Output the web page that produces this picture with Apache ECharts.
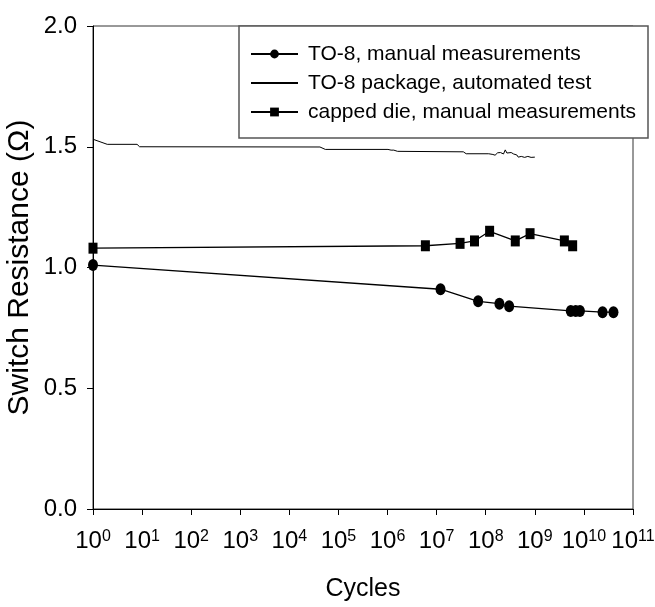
<!DOCTYPE html>
<html>
<head>
<meta charset="utf-8">
<script src="https://cdn.jsdelivr.net/npm/echarts@6/dist/echarts.min.js"></script>
<style>
html,body{margin:0;padding:0;background:#fff;}
#chart{width:655px;height:607px;}
</style>
</head>
<body>
<div id="chart"></div>
<script>
// ---- data ----
var seriesNames = ['TO-8, manual measurements', 'TO-8 package, automated test', 'capped die, manual measurements'];

var to8ManualCycles = [1, 1.2e7, 7e7, 1.9e8, 3e8, 5.4e9, 6.8e9, 8.3e9, 2.4e10, 4e10];
var to8ManualValues = [1.01, 0.91, 0.86, 0.85, 0.84, 0.82, 0.82, 0.82, 0.815, 0.815];

var autoCycles = [1, 1.95, 7.9, 8.9, 4.2e4, 5.4e4, 1.02e6, 1.1e6, 1.18e6, 1.26e6, 1.34e6, 1.45e6, 1.6e6,
  3.5e7, 4e7, 1.15e8, 1.25e8, 1.4e8, 1.55e8, 1.75e8, 2.0e8, 2.3e8, 2.5e8, 2.7e8, 2.9e8,
  3.3e8, 3.7e8, 4.3e8, 4.6e8, 5.3e8, 6.2e8, 7.2e8, 8.4e8, 1e9];
var autoValues = [1.531, 1.51, 1.51, 1.5, 1.499, 1.489, 1.489, 1.494, 1.486, 1.494, 1.486, 1.49, 1.481,
  1.479, 1.471, 1.471, 1.466, 1.468, 1.465, 1.475, 1.476, 1.47, 1.487, 1.474, 1.477,
  1.476, 1.47, 1.466, 1.457, 1.46, 1.456, 1.46, 1.456, 1.457];

var cappedCycles = [1, 5.9e6, 3e7, 5.9e7, 1.2e8, 4e8, 8e8, 4e9, 5.9e9];
var cappedValues = [1.08, 1.09, 1.10, 1.11, 1.15, 1.11, 1.14, 1.11, 1.09];

var xMin = 1, xMax = 1e11;
var yMin = 0, yMax = 2, yStep = 0.5;
var xTitle = 'Cycles';
var yTitle = 'Switch Resistance (\u03A9)';

function zip(a, b) { return a.map(function (v, i) { return [v, b[i]]; }); }

var sans = '"Liberation Sans", Arial, sans-serif';

var chart = echarts.init(document.getElementById('chart'), null, {renderer: 'canvas'});
chart.setOption({
  animation: false,
  backgroundColor: '#fff',
  grid: {left: 93, right: 22, top: 26, bottom: 98, containLabel: false, outerBoundsMode: 'none',
    show: true, borderColor: '#333', borderWidth: 1, backgroundColor: 'transparent'},
  xAxis: {
    type: 'log', logBase: 10, min: xMin, max: xMax, interval: 1, splitNumber: 11,
    name: xTitle, nameLocation: 'middle', nameGap: 68, nameMoveOverlap: false,
    nameTextStyle: {fontFamily: sans, fontSize: 25, color: '#000'},
    axisLine: {lineStyle: {color: '#000', width: 1}},
    axisTick: {show: true, inside: false, length: 6, interval: 0, lineStyle: {color: '#000'}},
    splitLine: {show: false},
    minorTick: {show: false},
    axisLabel: {
      margin: 20, interval: 0, showMaxLabel: true, showMinLabel: true, hideOverlap: false,
      formatter: function (v) { var e = Math.round(Math.log10(v)); return '{b|10}{s|' + e + '}'; },
      rich: {
        b: {fontFamily: sans, fontSize: 24, lineHeight: 24, color: '#000', verticalAlign: 'top'},
        s: {fontFamily: sans, fontSize: 16, lineHeight: 16, color: '#000', verticalAlign: 'top'}
      }
    }
  },
  yAxis: {
    type: 'value', min: yMin, max: yMax, interval: yStep,
    name: yTitle, nameLocation: 'middle', nameGap: 58, nameRotate: 90, nameMoveOverlap: false,
    nameTextStyle: {fontFamily: sans, fontSize: 30, color: '#000'},
    axisLine: {show: true, lineStyle: {color: '#000', width: 1}},
    axisTick: {show: true, inside: false, length: 6, lineStyle: {color: '#000'}},
    splitLine: {show: false},
    axisLabel: {margin: 16, fontFamily: sans, fontSize: 24, color: '#000',
      formatter: function (v) { return v.toFixed(1); }}
  },
  legend: {
    orient: 'vertical', left: 239, top: 26,
    padding: [17, 10, 17, 11],
    itemWidth: 47, itemHeight: 11, itemGap: 7,
    textStyle: {fontFamily: sans, fontSize: 21, lineHeight: 22, color: '#000', padding: [0, 0, 0, 5]},
    data: [
      {name: seriesNames[0]},
      {name: seriesNames[1], itemStyle: {opacity: 0}},
      {name: seriesNames[2]}
    ],
    z: 10
  },
  graphic: [{
    type: 'rect', z: 5, silent: true,
    shape: {x: 239, y: 26, width: 409, height: 112},
    style: {fill: '#fff', stroke: '#555', lineWidth: 1.5}
  }],
  series: [
    {name: seriesNames[0], type: 'line', data: zip(to8ManualCycles, to8ManualValues),
      symbol: 'circle', symbolSize: [10, 12], showSymbol: true,
      lineStyle: {color: '#000', width: 1.3}, itemStyle: {color: '#000'}},
    {name: seriesNames[1], type: 'line', data: zip(autoCycles, autoValues),
      symbol: 'none', showSymbol: false,
      lineStyle: {color: '#000', width: 1}, itemStyle: {color: '#000'}},
    {name: seriesNames[2], type: 'line', data: zip(cappedCycles, cappedValues),
      symbol: 'rect', symbolSize: [9, 11], showSymbol: true,
      lineStyle: {color: '#000', width: 1.3}, itemStyle: {color: '#000'}}
  ]
});
</script>
</body>
</html>
